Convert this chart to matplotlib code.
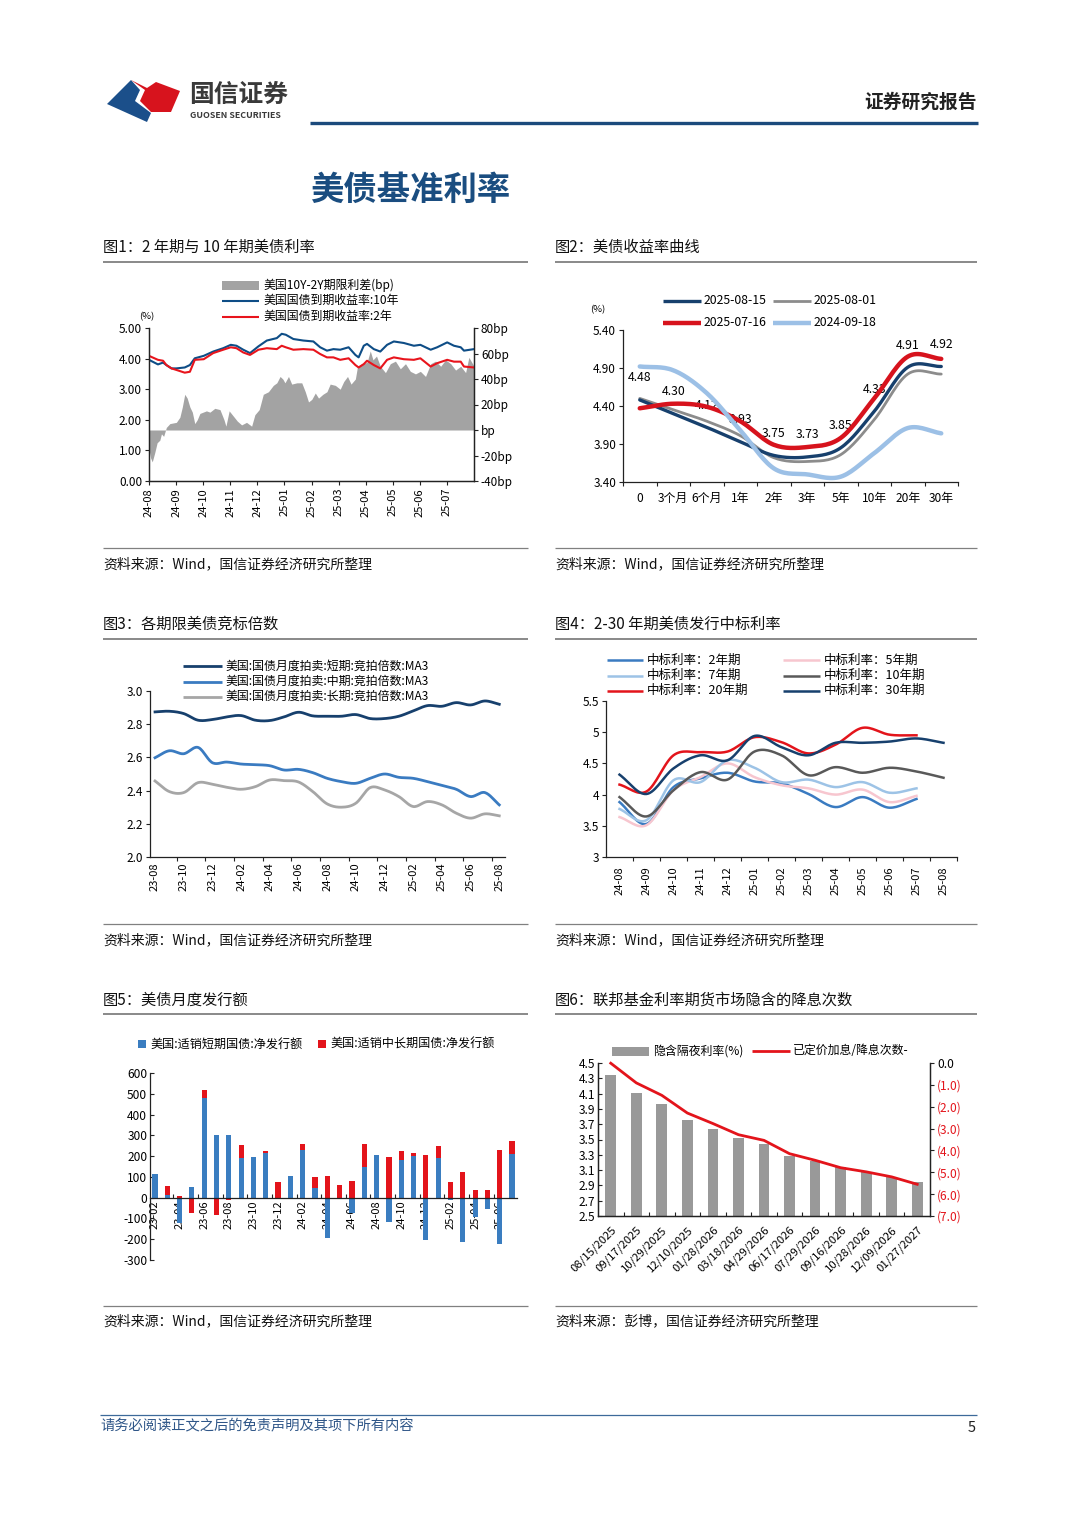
import matplotlib
matplotlib.use("Agg")
import matplotlib.pyplot as plt
import numpy as np
from matplotlib.lines import Line2D
from matplotlib.patches import Polygon, Rectangle

plt.rcParams["font.family"] = ["Noto Sans CJK SC", "DejaVu Sans"]
plt.rcParams["axes.unicode_minus"] = False

W, H = 1080, 1527

# ---------------- data ----------------
# fig1: months since 2024-08 (x), yields in %, spread in bp
t1_months = [0, 0.33, 0.52, 0.64, 0.83, 1.01, 1.32, 1.51, 1.69, 2.02, 2.37, 2.74, 3.02,
             3.23, 3.48, 3.73, 4.04, 4.35, 4.72, 4.90, 5.05, 5.33, 5.70, 6.07, 6.32, 6.57,
             6.81, 7.06, 7.37, 7.62, 7.74, 7.93, 8.05, 8.30, 8.54, 8.79, 9.04, 9.41, 9.78,
             10.02, 10.40, 10.64, 11.01, 11.26, 11.51, 11.63, 12.0]
us10y = [3.96, 3.81, 3.87, 3.79, 3.68, 3.68, 3.71, 3.79, 4.01, 4.09, 4.23, 4.34, 4.45,
         4.42, 4.29, 4.18, 4.40, 4.59, 4.67, 4.81, 4.78, 4.64, 4.59, 4.56, 4.37, 4.26,
         4.31, 4.29, 4.37, 4.12, 4.04, 4.42, 4.48, 4.31, 4.23, 4.45, 4.56, 4.51, 4.42,
         4.45, 4.29, 4.37, 4.53, 4.42, 4.37, 4.26, 4.31]
us2y = [4.09, 3.96, 3.93, 3.79, 3.68, 3.63, 3.54, 3.57, 3.96, 3.98, 4.18, 4.29, 4.37,
        4.34, 4.20, 4.12, 4.29, 4.34, 4.31, 4.42, 4.37, 4.29, 4.31, 4.29, 4.15, 4.04,
        4.04, 3.96, 4.01, 3.79, 3.71, 3.82, 3.93, 3.79, 3.68, 3.96, 4.04, 3.98, 3.96,
        4.01, 3.74, 3.85, 3.96, 3.90, 3.90, 3.74, 3.71]
spread_months = [0, 0.06, 0.12, 0.21, 0.30, 0.40, 0.46, 0.54, 0.64, 0.77, 1.01, 1.14, 1.23,
                 1.32, 1.41, 1.51, 1.60, 1.69, 1.78, 1.88, 2.12, 2.25, 2.43, 2.62, 2.77,
                 2.84, 2.96, 3.11, 3.26, 3.42, 3.60, 3.79, 3.91, 4.07, 4.22, 4.41, 4.59,
                 4.72, 4.84, 4.94, 5.02, 5.15, 5.27, 5.46, 5.64, 5.77, 5.89, 6.01, 6.14,
                 6.26, 6.42, 6.57, 6.69, 6.88, 7.06, 7.19, 7.33, 7.46, 7.62, 7.70, 7.86,
                 8.05, 8.17, 8.27, 8.40, 8.54, 8.73, 8.91, 9.10, 9.28, 9.47, 9.65, 9.84,
                 10.02, 10.21, 10.40, 10.58, 10.77, 10.95, 11.14, 11.32, 11.51, 11.69,
                 11.81, 12.0]
spread_bp = [-15, -22, -25, -18, -10, -8, -3, -5, 2, 5, 6, 10, 18, 28, 25, 18, 14, 5, 8,
             13, 15, 14, 17, 16, 8, 3, 15, 11, 7, 4, 6, 3, 12, 16, 28, 30, 35, 37, 42, 40,
             37, 42, 36, 37, 37, 30, 22, 24, 29, 25, 28, 30, 36, 35, 32, 38, 42, 36, 40,
             50, 52, 53, 62, 55, 58, 50, 45, 52, 54, 48, 52, 46, 44, 46, 42, 52, 54, 50,
             55, 52, 47, 50, 45, 57, 50]
t1_labels = ["24-08", "24-09", "24-10", "24-11", "24-12", "25-01", "25-02", "25-03",
             "25-04", "25-05", "25-06", "25-07"]

# fig2: yield curve
tenors = ["0", "3个月", "6个月", "1年", "2年", "3年", "5年", "10年", "20年", "30年"]
curve_0815 = [4.48, 4.30, 4.12, 3.93, 3.75, 3.73, 3.85, 4.33, 4.91, 4.92]
curve_0801 = [4.50, 4.35, 4.20, 4.01, 3.72, 3.67, 3.76, 4.22, 4.82, 4.82]
curve_0716 = [4.37, 4.43, 4.39, 4.20, 3.89, 3.86, 3.98, 4.50, 5.05, 5.02]
curve_0918 = [4.92, 4.87, 4.57, 4.08, 3.58, 3.50, 3.47, 3.78, 4.11, 4.04]

# fig3: bid-to-cover MA3, monthly 23-08 .. 25-08
btc_short = [2.874, 2.878, 2.864, 2.824, 2.828, 2.844, 2.852, 2.824, 2.822, 2.844, 2.872,
             2.85, 2.848, 2.848, 2.858, 2.834, 2.834, 2.848, 2.88, 2.912, 2.908, 2.93,
             2.916, 2.94, 2.92]
btc_mid = [2.598, 2.64, 2.622, 2.66, 2.568, 2.572, 2.56, 2.556, 2.55, 2.524, 2.528, 2.508,
           2.474, 2.454, 2.444, 2.474, 2.50, 2.48, 2.474, 2.454, 2.432, 2.408, 2.364,
           2.388, 2.314]
btc_long = [2.458, 2.394, 2.388, 2.448, 2.438, 2.42, 2.408, 2.424, 2.464, 2.46, 2.452,
            2.394, 2.32, 2.30, 2.324, 2.418, 2.404, 2.364, 2.304, 2.334, 2.314, 2.264,
            2.234, 2.26, 2.248]
btc_labels = ["23-08", "23-10", "23-12", "24-02", "24-04", "24-06", "24-08", "24-10",
              "24-12", "25-02", "25-04", "25-06", "25-08"]

# fig4: auction high yields, monthly 24-08 .. 25-08
auc_months = ["24-08", "24-09", "24-10", "24-11", "24-12", "25-01", "25-02", "25-03",
              "25-04", "25-05", "25-06", "25-07", "25-08"]
auc_2y = [3.88, 3.53, 4.12, 4.26, 4.35, 4.21, 4.18, 4.01, 3.80, 3.96, 3.79, 3.93]
auc_5y = [3.64, 3.51, 4.07, 4.28, 4.50, 4.28, 4.15, 4.10, 4.00, 4.08, 3.88, 3.98]
auc_7y = [3.77, 3.59, 4.23, 4.20, 4.55, 4.43, 4.20, 4.24, 4.12, 4.20, 4.03, 4.10]
auc_10y = [3.96, 3.65, 4.07, 4.36, 4.24, 4.69, 4.63, 4.31, 4.44, 4.35, 4.43, 4.37, 4.27]
auc_20y = [4.16, 4.05, 4.63, 4.68, 4.69, 4.92, 4.84, 4.66, 4.80, 5.07, 4.96, 4.95]
auc_30y = [4.32, 4.01, 4.42, 4.63, 4.55, 4.94, 4.76, 4.63, 4.83, 4.83, 4.85, 4.90, 4.83]

# fig5: net issuance, monthly 23-02 .. 25-07
iss_months = ["23-02", "23-03", "23-04", "23-05", "23-06", "23-07", "23-08", "23-09",
              "23-10", "23-11", "23-12", "24-01", "24-02", "24-03", "24-04", "24-05",
              "24-06", "24-07", "24-08", "24-09", "24-10", "24-11", "24-12", "25-01",
              "25-02", "25-03", "25-04", "25-05", "25-06", "25-07"]
iss_bills = [116, 13, -124, 52, 479, 302, 302, 189, 197, 213, 0, 105, 231, 48, -194, 0,
             -75, 150, 205, -118, 182, 202, -202, 192, -13, -213, -95, -56, -221, 210]
iss_coupons = [-5, 42, 6, -76, 40, -85, -13, 66, -8, 10, 77, -8, 27, 52, 102, 63, 79, 108,
               -5, 197, 42, 13, 205, 56, 73, 124, 35, 35, 231, 61]

# fig6: fed funds futures
ff_dates = ["08/15/2025", "09/17/2025", "10/29/2025", "12/10/2025", "01/28/2026",
            "03/18/2026", "04/29/2026", "06/17/2026", "07/29/2026", "09/16/2026",
            "10/28/2026", "12/09/2026", "01/27/2027"]
ff_implied = [4.34, 4.11, 3.96, 3.76, 3.64, 3.52, 3.44, 3.29, 3.22, 3.14, 3.08, 3.01, 2.94]
ff_cuts = [-0.01, -0.91, -1.48, -2.29, -2.77, -3.28, -3.54, -4.15, -4.45, -4.79, -4.98,
           -5.21, -5.55]


# ---------------- helpers ----------------
def add_ax(fig, left, top, right, bottom):
    return fig.add_axes([left / W, 1 - bottom / H, (right - left) / W, (bottom - top) / H])


def ftext(fig, x, y, s, **kw):
    kw.setdefault("va", "center")
    fig.text(x / W, 1 - y / H, s, **kw)


def fline(fig, x0, x1, y, color, lw):
    fig.add_artist(Line2D([x0 / W, x1 / W], [1 - y / H, 1 - y / H], color=color, lw=lw,
                          solid_capstyle="butt"))


def frect(fig, x0, y0, x1, y1, color):
    fig.add_artist(Rectangle((x0 / W, 1 - y1 / H), (x1 - x0) / W, (y1 - y0) / H,
                             color=color, lw=0))


def fpoly(fig, pts, color):
    fig.add_artist(Polygon([(x / W, 1 - y / H) for x, y in pts], closed=True,
                           color=color, lw=0))


def smooth(x, y, n=16):
    # Catmull-Rom curve through the points, like spreadsheet "smoothed line"
    x = np.asarray(x, float)
    y = np.asarray(y, float)
    px = np.concatenate([[2 * x[0] - x[1]], x, [2 * x[-1] - x[-2]]])
    py = np.concatenate([[2 * y[0] - y[1]], y, [2 * y[-1] - y[-2]]])
    t = np.linspace(0, 1, n, endpoint=False)[:, None]
    out = []
    for i in range(1, len(px) - 2):
        p = [np.array([px[j], py[j]]) for j in range(i - 1, i + 3)]
        seg = 0.5 * (2 * p[1] + (-p[0] + p[2]) * t
                     + (2 * p[0] - 5 * p[1] + 4 * p[2] - p[3]) * t ** 2
                     + (-p[0] + 3 * p[1] - 3 * p[2] + p[3]) * t ** 3)
        out.append(seg)
    out.append(np.array([[x[-1], y[-1]]]))
    out = np.vstack(out)
    return out[:, 0], out[:, 1]


def base_style(ax, spines=("left", "bottom")):
    for name, sp in ax.spines.items():
        sp.set_visible(name in spines)
        sp.set_linewidth(0.9)
        sp.set_color("#222222")
    ax.tick_params(labelsize=8.5, length=3, width=0.8, color="#222222", pad=2)
    ax.patch.set_alpha(0)


fig = plt.figure(figsize=(W / 100, H / 100), dpi=100)
fig.patch.set_facecolor("white")

# ---------------- page header ----------------
fpoly(fig, [(107, 104), (131, 80), (140, 90), (135, 101), (151, 113), (147, 122)], "#1b4f8a")
fpoly(fig, [(131, 80), (147, 88), (156, 82), (180, 91), (171, 112), (151, 112), (140, 101),
            (145, 90)], "#d7131d")
ftext(fig, 189, 95, "国信证券", fontsize=17.8, fontweight="bold", color="#3a3a3a")
ftext(fig, 190, 115, "GUOSEN SECURITIES", fontsize=6.4, fontweight="bold", color="#3a3a3a")
ftext(fig, 977, 102, "证券研究报告", fontsize=13.5, fontweight="bold", color="#222222", ha="right")
fline(fig, 310, 978, 123, "#1b4a7c", 2.4)
ftext(fig, 410, 190, "美债基准利率", fontsize=24, fontweight="bold", color="#1a4d80", ha="center")

# panel frames
rows = [(247, 262, 548, 564), (624, 639, 924, 940), (1000, 1014, 1306, 1321)]
heads = [("图1：2 年期与 10 年期美债利率", "图2：美债收益率曲线"),
         ("图3：各期限美债竞标倍数", "图4：2-30 年期美债发行中标利率"),
         ("图5：美债月度发行额", "图6：联邦基金利率期货市场隐含的降息次数")]
srcs = [("资料来源：Wind，国信证券经济研究所整理", "资料来源：Wind，国信证券经济研究所整理"),
        ("资料来源：Wind，国信证券经济研究所整理", "资料来源：Wind，国信证券经济研究所整理"),
        ("资料来源：Wind，国信证券经济研究所整理", "资料来源：彭博，国信证券经济研究所整理")]
for (hy, ly, sy, ty), (h1, h2), (s1, s2) in zip(rows, heads, srcs):
    for x0, x1, h, s in ((103, 528, h1, s1), (555, 977, h2, s2)):
        ftext(fig, x0, hy, h, fontsize=11, color="#111111")
        fline(fig, x0, x1, ly, "#808080", 1.3)
        fline(fig, x0, x1, sy, "#808080", 0.9)
        ftext(fig, x0, ty, s, fontsize=10, color="#111111")

# footer
fline(fig, 100, 977, 1415, "#3d6a9a", 0.9)
ftext(fig, 100, 1426, "请务必阅读正文之后的免责声明及其项下所有内容", fontsize=10.3,
      style="italic", color="#2f5688")
ftext(fig, 976, 1428, "5", fontsize=10.5, ha="right", color="#222222")

# ---------------- fig 1 ----------------
axb = add_ax(fig, 149, 328, 474, 481)
axb.fill_between(spread_months, 0, spread_bp, color="#a3a3a3", lw=0)
axb.set_xlim(0, 12)
axb.set_ylim(-40, 80)
axl = axb.twinx()
axb.yaxis.tick_right()
axl.yaxis.tick_left()
axl.plot(t1_months, us10y, color="#0e4d86", lw=1.5)
axl.plot(t1_months, us2y, color="#e8141c", lw=1.5)
axl.set_ylim(0, 5)
for a in (axb, axl):
    base_style(a, ("left", "right", "bottom"))
axb.set_yticks([-40, -20, 0, 20, 40, 60, 80])
axb.set_yticklabels(["-40bp", "-20bp", "bp", "20bp", "40bp", "60bp", "80bp"])
axl.set_yticks([0, 1, 2, 3, 4, 5])
axl.set_yticklabels(["0.00", "1.00", "2.00", "3.00", "4.00", "5.00"])
axb.set_xticks(range(12))
axb.set_xticklabels(t1_labels, rotation=90, fontsize=8)
ftext(fig, 147, 317, "(%)", fontsize=6.8, ha="center")
frect(fig, 222, 281, 259, 290, "#a3a3a3")
fline(fig, 222, 259, 300.7, "#0e4d86", 1.5)
fline(fig, 222, 259, 316.7, "#e8141c", 1.5)
for y, s in ((285, "美国10Y-2Y期限利差(bp)"), (300.7, "美国国债到期收益率:10年"),
             (316.7, "美国国债到期收益率:2年")):
    ftext(fig, 263, y, s, fontsize=8.6)

# ---------------- fig 2 ----------------
ax2 = add_ax(fig, 623, 330, 958, 482)
base_style(ax2)
xs = np.arange(len(tenors))
for vals, col, lw, z in ((curve_0801, "#8c8c8c", 2.0, 3), (curve_0815, "#17406d", 2.4, 4),
                         (curve_0716, "#d7131d", 3.2, 5), (curve_0918, "#9cc0e6", 3.2, 6)):
    sx, sy = smooth(xs, vals)
    ax2.plot(sx, sy, color=col, lw=lw, zorder=z, solid_capstyle="round")
for i, v in enumerate(curve_0815):
    ax2.text(i, v + 0.29, f"{v:.2f}", ha="center", va="center", fontsize=8.8, zorder=2)
ax2.set_xlim(-0.5, len(tenors) - 0.5)
ax2.set_ylim(3.4, 5.4)
ax2.set_yticks([3.4, 3.9, 4.4, 4.9, 5.4])
ax2.set_yticklabels(["3.40", "3.90", "4.40", "4.90", "5.40"])
ax2.set_xticks(np.arange(-0.5, len(tenors), 1))
ax2.set_xticklabels([])
ax2.set_xticks(xs, minor=True)
ax2.set_xticklabels(tenors, minor=True, fontsize=8.6)
ax2.tick_params(axis="x", which="minor", length=0, pad=7)
ftext(fig, 598, 310, "(%)", fontsize=6.8, ha="center")
for (x0, x1, y), col, lw, s in (((663, 701, 300.7), "#17406d", 2.4, "2025-08-15"),
                                ((773, 811, 300.7), "#8c8c8c", 2.0, "2025-08-01"),
                                ((663, 701, 322.7), "#d7131d", 3.2, "2025-07-16"),
                                ((773, 811, 322.7), "#9cc0e6", 3.2, "2024-09-18")):
    fline(fig, x0, x1, y, col, lw)
    ftext(fig, x1 + 3, y, s, fontsize=8.8)

# ---------------- fig 3 ----------------
ax3 = add_ax(fig, 150, 691, 505, 857)
base_style(ax3)
xm = np.arange(len(btc_short))
for vals, col in ((btc_short, "#17406d"), (btc_mid, "#3a7bc1"), (btc_long, "#a6a6a6")):
    sx, sy = smooth(xm, vals)
    ax3.plot(sx, sy, color=col, lw=2.0)
ax3.set_xlim(-0.35, 24.4)
ax3.set_ylim(2.0, 3.0)
ax3.set_yticks(np.round(np.arange(2.0, 3.01, 0.2), 1))
ax3.set_yticklabels([f"{v:.1f}" for v in np.arange(2.0, 3.01, 0.2)])
ax3.set_xticks(np.arange(1.5, 24, 2))
ax3.set_xticklabels([])
ax3.set_xticks(np.arange(0, 25, 2), minor=True)
ax3.set_xticklabels(btc_labels, minor=True, rotation=90, fontsize=8)
ax3.tick_params(axis="x", which="minor", length=0, pad=4)
for y, col, s in ((666, "#17406d", "美国:国债月度拍卖:短期:竞拍倍数:MA3"),
                  (681.7, "#3a7bc1", "美国:国债月度拍卖:中期:竞拍倍数:MA3"),
                  (696.7, "#a6a6a6", "美国:国债月度拍卖:长期:竞拍倍数:MA3")):
    fline(fig, 183, 222, y, col, 2.0)
    ftext(fig, 225, y, s, fontsize=8.6)

# ---------------- fig 4 ----------------
ax4 = add_ax(fig, 606, 701, 957, 857)
base_style(ax4)
series4 = [(auc_2y, "#3a7bc1", "中标利率：2年期"), (auc_5y, "#f7c6cf", "中标利率：5年期"),
           (auc_7y, "#9dc3e6", "中标利率：7年期"), (auc_10y, "#595959", "中标利率：10年期"),
           (auc_20y, "#e3141b", "中标利率：20年期"), (auc_30y, "#17406d", "中标利率：30年期")]
for vals, col, _ in series4:
    sx, sy = smooth(np.arange(len(vals)), vals)
    ax4.plot(sx, sy, color=col, lw=1.8)
ax4.set_xlim(-0.5, len(auc_months) - 0.5)
ax4.set_ylim(3, 5.5)
ax4.set_yticks([3, 3.5, 4, 4.5, 5, 5.5])
ax4.set_yticklabels(["3", "3.5", "4", "4.5", "5", "5.5"])
ax4.set_xticks(np.arange(0.5, len(auc_months), 1))
ax4.set_xticklabels([])
ax4.set_xticks(np.arange(len(auc_months)), minor=True)
ax4.set_xticklabels(auc_months, minor=True, rotation=90, fontsize=8)
ax4.tick_params(axis="x", which="minor", length=0, pad=7)
leg_pos = [(607, 643, 660), (607, 643, 675.7), (607, 643, 690.7),
           (783, 820, 660), (783, 820, 675.7), (783, 820, 690.7)]
order = [0, 2, 4, 1, 3, 5]
for (x0, x1, y), k in zip(leg_pos, order):
    fline(fig, x0, x1, y, series4[k][1], 1.8)
    ftext(fig, x1 + 4, y, series4[k][2], fontsize=9)

# ---------------- fig 5 ----------------
ax5 = add_ax(fig, 150, 1073, 517, 1260)
base_style(ax5)
xi = np.arange(len(iss_months))
bills = np.array(iss_bills, float)
coupons = np.array(iss_coupons, float)
red_bottom = np.where(coupons >= 0, np.maximum(bills, 0), np.minimum(bills, 0))
ax5.bar(xi, bills, width=0.42, color="#3a7dc0", zorder=2)
ax5.bar(xi, coupons, width=0.42, bottom=red_bottom, color="#e3141b", zorder=2)
ax5.spines["bottom"].set_position(("data", 0))
ax5.set_xlim(-0.4, 29.4)
ax5.set_ylim(-300, 600)
ax5.set_yticks(range(-300, 601, 100))
ax5.tick_params(axis="y", direction="in", labelsize=8.6)
ax5.set_xticks(np.arange(1.5, 29, 2))
ax5.set_xticklabels([])
ax5.tick_params(axis="x", which="major", direction="in", length=3)
ax5.set_xticks(xi[::2], minor=True)
ax5.set_xticklabels(iss_months[::2], minor=True, rotation=90, fontsize=8)
ax5.tick_params(axis="x", which="minor", length=0, pad=2)
for lab in ax5.get_xticklabels(minor=True):
    lab.set_zorder(5)
frect(fig, 138, 1040, 146, 1048, "#3a7dc0")
ftext(fig, 150, 1044, "美国:适销短期国债:净发行额", fontsize=8.7)
frect(fig, 318, 1040, 326, 1048, "#e3141b")
ftext(fig, 330, 1044, "美国:适销中长期国债:净发行额", fontsize=8.7)

# ---------------- fig 6 ----------------
ax6 = add_ax(fig, 598, 1063, 930, 1216)
xf = np.arange(len(ff_dates))
ax6.bar(xf, [v - 2.5 for v in ff_implied], bottom=2.5, width=0.42, color="#999999")
ax6.set_xlim(-0.5, len(ff_dates) - 0.5)
ax6.set_ylim(2.5, 4.5)
ax6r = ax6.twinx()
ax6r.plot(xf, ff_cuts, color="#e3141b", lw=2.0, clip_on=False)
ax6r.set_ylim(-7, 0)
for a in (ax6, ax6r):
    base_style(a, ("left", "right", "bottom"))
ax6.set_yticks(np.round(np.arange(2.5, 4.51, 0.2), 1))
ax6.set_yticklabels([f"{v:.1f}" for v in np.arange(2.5, 4.51, 0.2)], fontsize=8.6)
ax6.tick_params(axis="y", direction="in")
ax6r.set_yticks(range(-7, 1))
ax6r.set_yticklabels([f"({-v:.1f})" if v < 0 else "0.0" for v in range(-7, 1)], fontsize=8.6)
for lab in ax6r.get_yticklabels()[:-1]:
    lab.set_color("#e3141b")
ax6.set_xticks(np.arange(0.5, len(ff_dates) - 0.5, 1))
ax6.set_xticklabels([])
ax6.tick_params(axis="x", which="major", direction="in", length=3)
ax6.set_xticks(xf, minor=True)
ax6.set_xticklabels(ff_dates, minor=True, rotation=45, ha="right", rotation_mode="anchor",
                    fontsize=8.2)
ax6.tick_params(axis="x", which="minor", length=0, pad=6)
frect(fig, 612, 1047, 649, 1056, "#999999")
ftext(fig, 653, 1051, "隐含隔夜利率(%)", fontsize=8.6)
fline(fig, 752, 790, 1051, "#e3141b", 2.0)
ftext(fig, 793, 1051, "已定价加息/降息次数-", fontsize=8.6)

fig.savefig("out.png", dpi=100)
